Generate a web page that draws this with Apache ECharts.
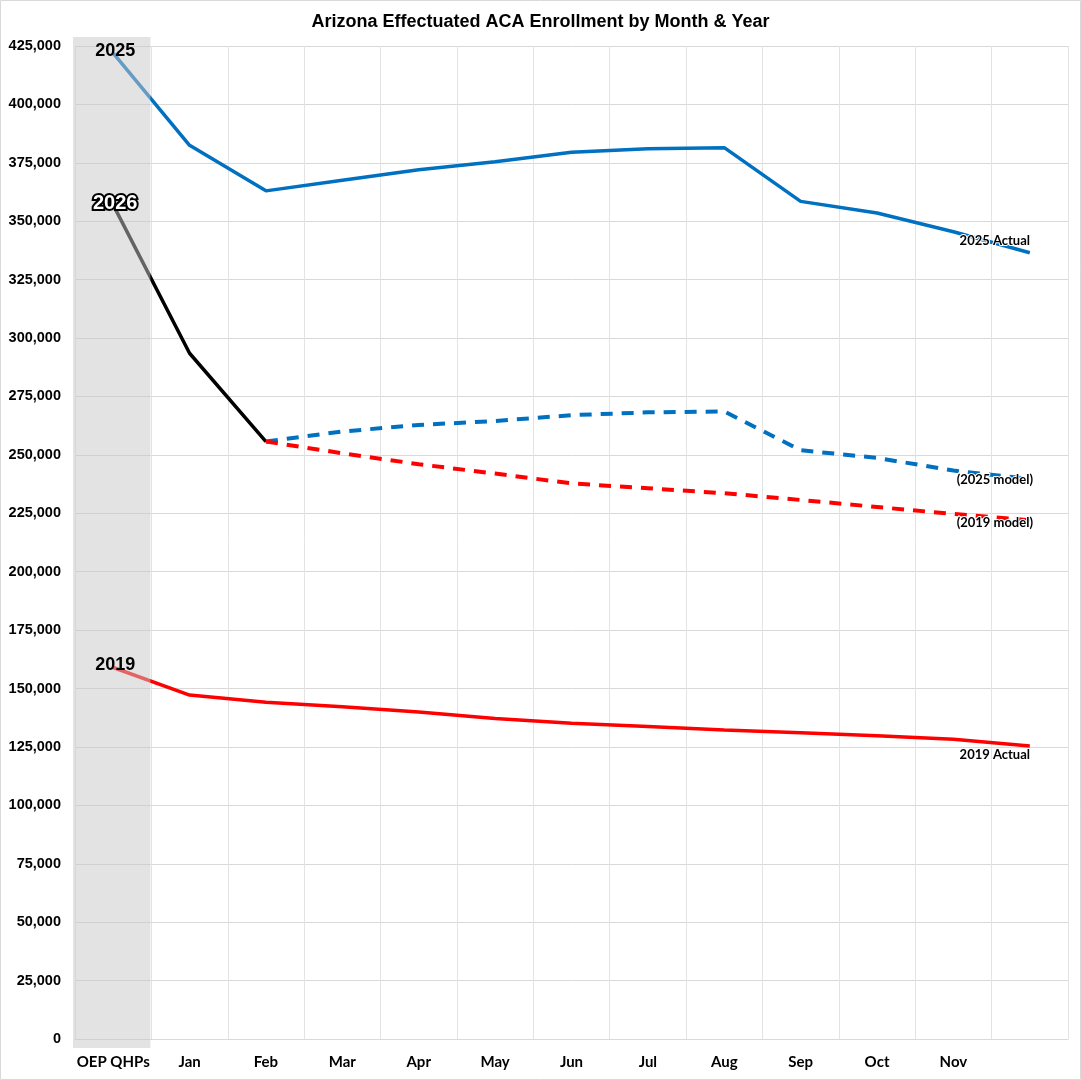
<!DOCTYPE html>
<html>
<head>
<meta charset="utf-8">
<title>Arizona Effectuated ACA Enrollment</title>
<script src="https://cdn.jsdelivr.net/npm/echarts@6/dist/echarts.min.js"></script>
<style>
  html, body { margin: 0; padding: 0; background: #fff; }
  #chart-container { width: 1081px; height: 1080px; }
</style>
</head>
<body>
<div id="chart-container"></div>
<script>
var dom = document.getElementById("chart-container");
var myChart = echarts.init(dom, null, { renderer: "canvas" });

// categories along the bottom (last month left unlabeled, as in the source)
const categories = ["OEP QHPs", "Jan", "Feb", "Mar", "Apr", "May", "Jun", "Jul", "Aug", "Sep", "Oct", "Nov", ""];

const actual2025 = [422000, 382500, 363000, 367500, 372000, 375500, 379500, 381000, 381500, 358500, 353500, 345500, 336500];
const actual2026 = [357000, 293500, 255700, "-", "-", "-", "-", "-", "-", "-", "-", "-", "-"];
const actual2019 = [159000, 147200, 144100, 142200, 140000, 137200, 135100, 133700, 132300, 131100, 129800, 128300, 125400];
const model2025 = ["-", "-", 255700, 260000, 262800, 264500, 267000, 268200, 268600, 252000, 248700, 243300, 239700];
const model2019 = ["-", "-", 255700, 250700, 246000, 242000, 237800, 235700, 233600, 230700, 227700, 224700, 222000];

const startLabels = ["2025", "2026", "2019"];
const endLabels = ["2025 Actual", "(2025 model)", "(2019 model)", "2019 Actual"];

var last = categories.length - 1;

function endLabel(text, dy) {
  return {
    show: true,
    position: "inside",
    offset: [-35, dy],
    formatter: text,
    fontFamily: "Lato",
    fontWeight: "bold",
    fontSize: 13,
    color: "#000",
    textBorderColor: "#fff",
    textBorderWidth: 2,
  };
}

// attach the end label to the last point of a series
function withEnd(values, text, dy) {
  return values.map(function (v, i) {
    if (i === last) {
      return { value: v, symbolSize: 0.1, label: endLabel(text, dy) };
    }
    return v;
  });
}

var plainText = {
  fontFamily: "Liberation Sans",
  fontWeight: "bold",
  fontSize: 18,
  color: "#000",
  offset: [2, -2],
};

var startData = [
  { value: [0, actual2025[0]], name: startLabels[0], label: plainText },
  {
    value: [0, actual2026[0]],
    name: startLabels[1],
    label: {
      fontFamily: "Liberation Sans",
      fontWeight: "bold",
      fontSize: 20,
      color: "#fff",
      textBorderColor: "#000",
      textBorderWidth: 4,
      offset: [2, -1],
    },
  },
  { value: [0, actual2019[0]], name: startLabels[2], label: plainText },
];

var lineBase = {
  type: "line",
  showSymbol: true,
  symbol: "circle",
  symbolSize: 0.1,
  silent: true,
  connectNulls: false,
  z: 2,
};

var option = {
  animation: false,
  backgroundColor: "#fff",
  title: {
    text: "Arizona Effectuated ACA Enrollment by Month & Year",
    left: "center",
    top: 8,
    textStyle: {
      fontFamily: "Liberation Sans",
      fontWeight: "bold",
      fontSize: 18,
      color: "#000",
    },
  },
  graphic: [
    {
      type: "rect",
      shape: { x: 0.5, y: 0.5, width: 1080, height: 1079 },
      style: { fill: "none", stroke: "#d9d9d9", lineWidth: 1 },
      silent: true,
    },
  ],
  grid: { left: 75, right: 13, top: 46, bottom: 41 },
  xAxis: {
    type: "category",
    data: categories,
    boundaryGap: true,
    axisLine: { lineStyle: { color: "#d9d9d9" } },
    axisTick: { show: false },
    splitLine: { show: true, lineStyle: { color: "#e3e3e3" } },
    axisLabel: {
      interval: 0,
      margin: 16,
      fontFamily: "Lato",
      fontWeight: "bold",
      fontSize: 15,
      color: "#000",
    },
  },
  yAxis: {
    type: "value",
    min: 0,
    max: 425000,
    interval: 25000,
    axisLine: { show: false },
    axisTick: { show: false },
    splitLine: { lineStyle: { color: "#d9d9d9" } },
    axisLabel: {
      margin: 14,
      fontFamily: "Liberation Sans",
      fontWeight: "bold",
      fontSize: 14.5,
      color: "#000",
      formatter: function (v) {
        return v.toLocaleString("en-US");
      },
    },
  },
  series: [
    Object.assign({}, lineBase, {
      name: "2025 Actual",
      data: withEnd(actual2025, endLabels[0], -12),
      lineStyle: { color: "#0070c0", width: 3.5 },
      itemStyle: { color: "#0070c0" },
    }),
    Object.assign({}, lineBase, {
      name: "2019 Actual",
      data: withEnd(actual2019, endLabels[3], 9),
      lineStyle: { color: "#ff0000", width: 3.5 },
      itemStyle: { color: "#ff0000" },
    }),
    Object.assign({}, lineBase, {
      name: "2026",
      data: actual2026,
      showSymbol: false,
      lineStyle: { color: "#000", width: 3.5 },
      itemStyle: { color: "#000" },
    }),
    Object.assign({}, lineBase, {
      name: "2025 model",
      data: withEnd(model2025, endLabels[1], 1),
      lineStyle: { color: "#0070c0", width: 4, type: [12, 9] },
      itemStyle: { color: "#0070c0" },
    }),
    Object.assign({}, lineBase, {
      name: "2019 model",
      data: withEnd(model2019, endLabels[2], 3),
      lineStyle: { color: "#ff0000", width: 4, type: [12, 9] },
      itemStyle: { color: "#ff0000" },
    }),
    {
      // grey band over the open-enrollment column, drawn on top so the lines fade
      type: "custom",
      name: "OEP band",
      silent: true,
      z: 3,
      data: [[0]],
      encode: { x: 0 },
      renderItem: function (params, api) {
        var c = api.coord([api.value(0), 0]);
        var w = api.size([1, 0])[0];
        var sys = params.coordSys;
        return {
          type: "rect",
          shape: { x: c[0] - w / 2 - 2, y: sys.y - 9, width: w + 1, height: sys.height + 18 },
          style: { fill: "rgba(200,200,200,0.5)" },
        };
      },
    },
    {
      // year tags on the open-enrollment points, above the band
      type: "scatter",
      name: "start labels",
      silent: true,
      z: 5,
      symbolSize: 1,
      itemStyle: { color: "transparent", opacity: 1 },
      label: {
        show: true,
        position: "inside",
        formatter: function (p) {
          return p.name;
        },
      },
      data: startData,
    },
  ],
};

myChart.setOption(option);

window.addEventListener("resize", myChart.resize);
</script>
</body>
</html>
